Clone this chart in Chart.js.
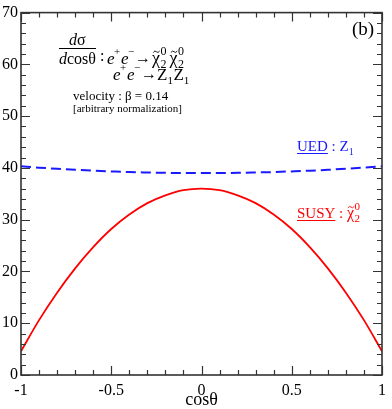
<!DOCTYPE html>
<html>
<head>
<meta charset="utf-8">
<script src="https://cdn.jsdelivr.net/npm/chart.js@4"></script>
<style>
  body { margin: 0; background: #fff; }
  #wrap { width: 392px; height: 409px; }
</style>
</head>
<body>
<div id="wrap"><canvas id="chart"></canvas></div>
<script>
// values
const cosTheta = [-1, -0.9, -0.8, -0.7, -0.6, -0.5, -0.4, -0.3, -0.2, -0.1, 0,
                  0.1, 0.2, 0.3, 0.4, 0.5, 0.6, 0.7, 0.8, 0.9, 1];
const susy = [4.6, 10.6, 15.9, 20.6, 24.7, 28.2, 31.0, 33.2, 34.7, 35.7, 36.0,
              35.7, 34.7, 33.2, 31.0, 28.2, 24.7, 20.6, 15.9, 10.6, 4.6];
const ued = [40.3, 40.05, 39.83, 39.64, 39.47, 39.33, 39.2, 39.12, 39.05, 39.01, 39.0,
             39.01, 39.05, 39.12, 39.2, 39.33, 39.47, 39.64, 39.83, 40.05, 40.3];

const xMin = -1, xMax = 1, xStep = 0.5, xMinor = 0.1;
const yMin = 0, yMax = 70, yStep = 10, yMinor = 2;

const SERIF = '"Liberation Serif", "DejaVu Serif", serif';
const RED = '#ff0000';
const BLUE = '#1a1aff';

// a bit of text at an exact spot
function txt(ctx, t, x, y, size, it) {
  ctx.font = (it ? 'italic ' : '') + size + 'px ' + SERIF;
  ctx.fillText(t, x, y);
  return x + ctx.measureText(t).width;
}

// chi with a tilde on top, sub 2, sup 0
function chiTilde(ctx, x, y, size, small) {
  ctx.font = size + 'px ' + SERIF;
  const w = ctx.measureText('χ').width;
  ctx.fillText('χ', x, y);
  const cx = x + w / 2 + 0.5, ty = y - size * 0.68;
  ctx.save();
  ctx.lineWidth = 0.9;
  ctx.strokeStyle = ctx.fillStyle;
  ctx.beginPath();
  ctx.moveTo(cx - 3.2, ty + 0.8);
  ctx.quadraticCurveTo(cx - 1.6, ty - 1.8, cx, ty);
  ctx.quadraticCurveTo(cx + 1.6, ty + 1.8, cx + 3.2, ty - 0.8);
  ctx.stroke();
  ctx.restore();
  txt(ctx, '2', x + w + 0.5, y + 4, small);
  txt(ctx, '0', x + w + 0.5, y - size * 0.5, small);
  return x + w + small * 0.55;
}

const annotations = {
  id: 'annotations',
  afterDatasetsDraw(chart) {
    const ctx = chart.ctx;
    ctx.save();
    ctx.textAlign = 'left';
    ctx.textBaseline = 'alphabetic';
    ctx.fillStyle = '#000';

    // d sigma / d cos theta
    let x = txt(ctx, 'd', 69, 45, 16, true);
    txt(ctx, 'σ', x, 45, 16);
    ctx.strokeStyle = '#000';
    ctx.lineWidth = 1;
    ctx.beginPath();
    ctx.moveTo(59, 48.5);
    ctx.lineTo(96, 48.5);
    ctx.stroke();
    x = txt(ctx, 'd', 59, 64, 16, true);
    txt(ctx, 'cosθ', x, 64, 16);
    txt(ctx, ':', 100, 61, 16);

    // e+ e- -> chi chi
    txt(ctx, 'e', 107, 64, 17, true);
    txt(ctx, '+', 114, 55, 11);
    txt(ctx, 'e', 121, 64, 17, true);
    txt(ctx, '−', 128, 55, 11);
    txt(ctx, '→', 135, 63, 16);
    x = chiTilde(ctx, 152, 64, 18, 12);
    chiTilde(ctx, x + 3, 64, 18, 12);

    // e+ e- -> Z1 Z1
    txt(ctx, 'e', 113, 80, 17, true);
    txt(ctx, '+', 120, 71, 11);
    txt(ctx, 'e', 127, 80, 17, true);
    txt(ctx, '−', 134, 71, 11);
    txt(ctx, '→', 141, 79, 16);
    x = txt(ctx, 'Z', 157, 80, 17);
    txt(ctx, '1', x, 84, 11);
    x = txt(ctx, 'Z', x + 6, 80, 17);
    txt(ctx, '1', x, 84, 11);

    txt(ctx, 'velocity : β = 0.14', 73, 100, 13);
    txt(ctx, '[arbitrary normalization]', 73, 112, 11);
    txt(ctx, '(b)', 352, 35, 19);

    // series labels
    ctx.fillStyle = BLUE;
    ctx.strokeStyle = BLUE;
    x = txt(ctx, 'UED', 297, 151, 15);
    ctx.beginPath();
    ctx.moveTo(297, 153.5);
    ctx.lineTo(x, 153.5);
    ctx.stroke();
    x = txt(ctx, ' : Z', x, 151, 15);
    txt(ctx, '1', x, 155, 10);

    ctx.fillStyle = RED;
    ctx.strokeStyle = RED;
    x = txt(ctx, 'SUSY', 297, 218, 15);
    ctx.beginPath();
    ctx.moveTo(297, 220.5);
    ctx.lineTo(x, 220.5);
    ctx.stroke();
    x = txt(ctx, ' : ', x, 218, 15);
    chiTilde(ctx, x, 218, 16, 11);

    ctx.restore();
  }
};

// frame with inward ticks on all four sides
const frameTicks = {
  id: 'frameTicks',
  afterDraw(chart) {
    const {ctx, chartArea: a, scales} = chart;
    const xs = scales.x, ys = scales.y;
    ctx.save();
    ctx.strokeStyle = '#333';
    ctx.lineWidth = 1.2;
    ctx.beginPath();
    for (let i = 0; i <= Math.round((xMax - xMin) / xMinor); i++) {
      const v = xMin + i * xMinor;
      const major = Math.abs(v / xStep - Math.round(v / xStep)) < 1e-6;
      const len = major ? 9 : 5;
      const px = Math.round(xs.getPixelForValue(v)) + 0.5;
      ctx.moveTo(px, a.bottom); ctx.lineTo(px, a.bottom - len);
      ctx.moveTo(px, a.top); ctx.lineTo(px, a.top + len);
    }
    for (let v = yMin; v <= yMax; v += yMinor) {
      const len = v % yStep === 0 ? 9 : 5;
      const py = Math.round(ys.getPixelForValue(v)) + 0.5;
      ctx.moveTo(a.left, py); ctx.lineTo(a.left + len, py);
      ctx.moveTo(a.right, py); ctx.lineTo(a.right - len, py);
    }
    ctx.stroke();
    ctx.lineWidth = 1.6;
    ctx.strokeRect(a.left, a.top, a.right - a.left, a.bottom - a.top);
    ctx.restore();
  }
};

new Chart(document.getElementById('chart'), {
  type: 'line',
  data: {
    datasets: [
      {
        label: 'UED',
        data: cosTheta.map((c, i) => ({x: c, y: ued[i]})),
        borderColor: BLUE,
        borderWidth: 2,
        borderDash: [10, 5],
        pointRadius: 0,
        cubicInterpolationMode: 'monotone'
      },
      {
        label: 'SUSY',
        data: cosTheta.map((c, i) => ({x: c, y: susy[i]})),
        borderColor: RED,
        borderWidth: 1.8,
        pointRadius: 0,
        cubicInterpolationMode: 'monotone'
      }
    ]
  },
  options: {
    responsive: true,
    maintainAspectRatio: false,
    animation: false,
    layout: { padding: { top: 7, right: 4, left: 0, bottom: 0 }, autoPadding: false },
    plugins: { legend: { display: false }, tooltip: { enabled: false } },
    scales: {
      x: {
        type: 'linear',
        min: xMin, max: xMax,
        grid: { display: false, drawTicks: false },
        border: { display: false },
        ticks: {
          stepSize: xStep,
          padding: 6,
          color: '#000',
          font: { family: SERIF, size: 16 },
          maxRotation: 0,
          callback: v => String(v)
        },
        title: {
          display: true,
          text: 'cosθ',
          color: '#000',
          font: { family: SERIF, size: 18, lineHeight: 1 },
          padding: { top: 0, bottom: 0 }
        },
        afterFit: s => { s.height = 34; }
      },
      y: {
        min: yMin, max: yMax,
        grid: { display: false, drawTicks: false },
        border: { display: false },
        ticks: {
          stepSize: yStep,
          padding: 3,
          color: '#000',
          font: { family: SERIF, size: 16 }
        },
        afterFit: s => { s.width = 21; }
      }
    }
  },
  plugins: [frameTicks, annotations]
});
</script>
</body>
</html>
